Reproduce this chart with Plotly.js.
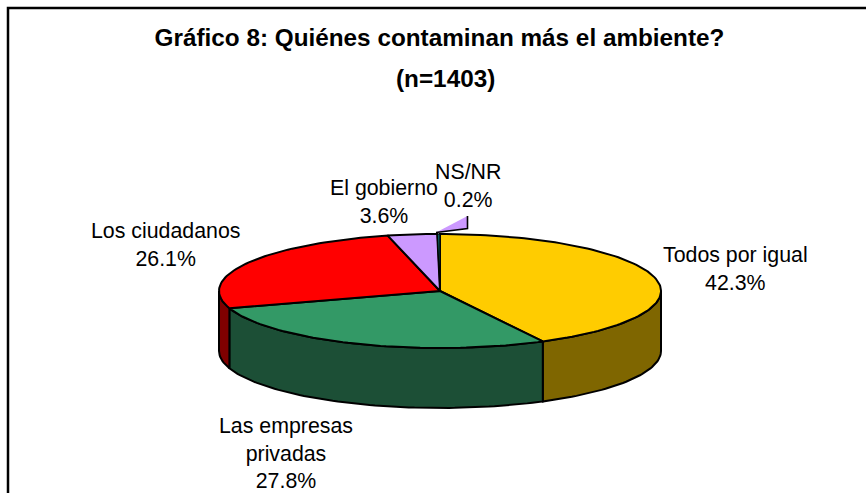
<!DOCTYPE html>
<html><head><meta charset="utf-8">
<script src="https://cdn.plot.ly/plotly-3.0.1.min.js"></script>
<style>html,body{margin:0;padding:0;background:#fff}#c{width:866px;height:493px}</style>
</head><body><div id="c"></div>
<script>
const categories = ["Todos por igual", "Las empresas<br>privadas", "Los ciudadanos", "El gobierno", "NS/NR"];
const values = [42.3, 27.8, 26.1, 3.6, 0.2];
const topColors = ["#ffcc00", "#339966", "#ff0000", "#cc99ff", "#cc99ff"];
const wallColors = ["#7f6600", "#1c4f36", "#7f0000", "#66004d", "#66004d"];
const labelX = [735.5, 286, 165.5, 384, 468];
const labelY = [269, 453, 245, 202, 185.5];
const titleLines = ["Gráfico 8: Quiénes contaminan más el ambiente?", "(n=1403)"];
const cx = 440, cy = 291, rx = 221, ry = 57, depth = 60;
const FONT = "Liberation Sans, Arial, sans-serif";

function pt(deg, r = 1, dy = 0) {
  const a = deg * Math.PI / 180;
  return [cx + rx * r * Math.sin(a), cy - ry * r * Math.cos(a) + dy];
}
function arc(a0, a1, dy = 0) {
  const n = Math.max(2, Math.ceil(Math.abs(a1 - a0) / 1.5)), out = [];
  for (let i = 0; i <= n; i++) out.push(pt(a0 + (a1 - a0) * i / n, 1, dy));
  return out;
}
function poly(points, fill, w = 2) {
  const c = points.concat([points[0]]);
  return { type: "scatter", mode: "lines", x: c.map(p => p[0]), y: c.map(p => p[1]),
    fill: "toself", fillcolor: fill, line: { color: "#000", width: w, shape: "linear" },
    hoverinfo: "skip", showlegend: false };
}
function stroke(points, w = 2) {
  return { type: "scatter", mode: "lines", x: points.map(p => p[0]), y: points.map(p => p[1]),
    line: { color: "#000", width: w }, hoverinfo: "skip", showlegend: false };
}
const total = values.reduce((s, v) => s + v, 0);
const traces = [];
let acc = 0;
const spans = values.map(v => { const s = [acc, acc + v / total * 360]; acc = s[1]; return s; });
spans.forEach((s, i) => {
  const a0 = Math.max(s[0], 90), a1 = Math.min(s[1], 270);
  if (a1 > a0) traces.push(poly(arc(a0, a1).concat(arc(a1, a0, depth)), wallColors[i]));
});
spans.forEach((s, i) => {
  if (i === 4) return;
  traces.push(poly([[cx, cy]].concat(arc(s[0], s[1])), topColors[i]));
});
traces.push(poly([[cx, cy]].concat(arc(spans[4][0], spans[4][1])), "#0b5f5f", 1.2));
const apex = [cx - 4, cy - 58.5], tip = [cx + 27.5, cy - 75], foot = [cx + 27.5, cy - 62.5];
const sliver = poly([apex, tip, foot], topColors[4], 0);
sliver.line = { width: 0, color: "rgba(0,0,0,0)" };
traces.push(sliver);
traces.push(stroke([tip, foot, apex], 1.6));

const annotations = categories.map((c, i) => ({
  x: labelX[i], y: labelY[i], xref: "x", yref: "y", showarrow: false,
  text: c + "<br>" + values[i].toFixed(1) + "%", align: "center",
  font: { family: FONT, size: 21.33, color: "#000" }
}));
annotations.push({ x: 445.5, y: 78.5, xref: "x", yref: "y", showarrow: false,
  text: "<b>" + titleLines[1] + "</b>", font: { family: FONT, size: 24.3, color: "#000" } });

const layout = {
  width: 866, height: 493, margin: { l: 0, r: 0, t: 0, b: 0 },
  paper_bgcolor: "#fff", plot_bgcolor: "#fff", showlegend: false,
  title: { text: "<b>" + titleLines[0] + "</b>",
    x: 439.5 / 866, xanchor: "center", y: 1 - 37 / 493, yanchor: "middle",
    font: { family: FONT, size: 24.3, color: "#000" } },
  xaxis: { range: [0, 866], visible: false, fixedrange: true },
  yaxis: { range: [493, 0], visible: false, fixedrange: true },
  annotations,
  shapes: [{ type: "rect", xref: "x", yref: "y", x0: 8, y0: 8, x1: 900, y1: 530,
    line: { color: "#000", width: 2.5 }, fillcolor: "rgba(0,0,0,0)", layer: "below" }]
};
Plotly.newPlot("c", traces, layout, { staticPlot: true, displayModeBar: false });
</script></body></html>
